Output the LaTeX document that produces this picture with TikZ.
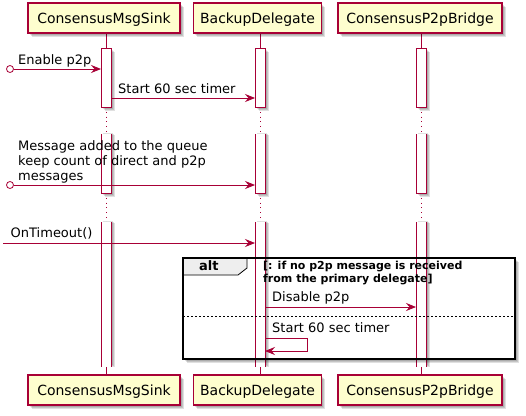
\documentclass[tikz,border=0pt]{standalone}
\usepackage{fontspec}
\setmainfont{DejaVu Sans}
\usetikzlibrary{arrows.meta}
\definecolor{pu}{HTML}{A80036}
\definecolor{pfill}{HTML}{FEFECE}
\definecolor{tabfill}{HTML}{EEEEEE}
\tikzset{
  part/.style={draw=pu, line width=1.1pt, fill=pfill, minimum height=30pt, inner sep=0pt,
    text height=13pt, text depth=3pt, font=\fontsize{14}{16}\selectfont},
  shad/.style={fill=black, opacity=0.12},
  life/.style={draw=pu, line width=0.8pt},
  delay/.style={draw=pu, line width=0.8pt, dash pattern=on 0.8pt off 4pt},
  barside/.style={draw=pu, line width=0.8pt},
  msg/.style={draw=pu, line width=0.8pt, -{Stealth[length=10pt,width=8pt,inset=3.5pt]}},
  txt/.style={anchor=base west, inner sep=0pt, font=\fontsize{13}{15}\selectfont},
  guard/.style={anchor=base west, inner sep=0pt, font=\fontsize{11}{13}\selectfont\bfseries},
}
% soft shadow: layered rectangles, offset down-right
\newcommand\softshad[4]{%
  \fill[shad] (#1+2,#2+2) rectangle (#3+2,#4+2);
  \fill[shad] (#1+3,#2+3) rectangle (#3+3,#4+3);
  \fill[shad] (#1+4,#2+4) rectangle (#3+4,#4+4);
}
\begin{document}
\begin{tikzpicture}[x=1pt, y=-1pt]
\useasboundingbox[fill=white] (0,0) rectangle (526,415);

% lifelines
\foreach \lx in {106,260,421} {
  \draw[life] (\lx,33) -- (\lx,48);
  \draw[delay] (\lx,107) -- (\lx,134);
  \draw[delay] (\lx,193) -- (\lx,222);
  \draw[life] (\lx,367) -- (\lx,375);
}

% activation bars
\foreach \lx in {106,260,421} {
  % bar 1
  \softshad{\lx-5}{48}{\lx+5}{107}
  \filldraw[barside, fill=white] (\lx-5,48) rectangle (\lx+5,107);
  % bar 2
  \softshad{\lx-5}{131}{\lx+5}{193}
  \fill[white] (\lx-5,134) rectangle (\lx+5,193);
  \draw[barside] (\lx-5,134) -- (\lx-5,193) -- (\lx+5,193) -- (\lx+5,134);
  % bar 3
  \softshad{\lx-5}{219}{\lx+5}{363}
  \fill[white] (\lx-5,222) rectangle (\lx+5,367);
  \draw[barside] (\lx-5,222) -- (\lx-5,367);
  \draw[barside] (\lx+5,222) -- (\lx+5,367);
}

% participants (top)
\softshad{28}{3}{180}{33}
\softshad{193}{3}{321}{33}
\softshad{338}{3}{502}{33}
\node[part, minimum width=152pt] (sinkT) at (104,18) {ConsensusMsgSink};
\node[part, minimum width=128pt] (backT) at (257.5,18) {BackupDelegate};
\node[part, minimum width=164pt] (bridgeT) at (420,18) {ConsensusP2pBridge};

% participants (bottom)
\softshad{28}{375}{180}{405}
\softshad{193}{375}{321}{405}
\softshad{338}{375}{502}{405}
\node[part, minimum width=152pt] (sinkB) at (104,390) {ConsensusMsgSink};
\node[part, minimum width=128pt] (backB) at (257.5,390) {BackupDelegate};
\node[part, minimum width=164pt] (bridgeB) at (420,390) {ConsensusP2pBridge};

% message endpoints
\coordinate (m1e) at (101,69);
\coordinate (m2s) at (111,98);  \coordinate (m2e) at (255,98);
\coordinate (m3e) at (255,185);
\coordinate (m4s) at (3,243);   \coordinate (m4e) at (255,243);
\coordinate (m5s) at (265,307); \coordinate (m5e) at (416,307);
\coordinate (m6s) at (265,338); \coordinate (m6a) at (307,338);
\coordinate (m6b) at (307,351); \coordinate (m6e) at (265,351);

% messages
\node[draw=pu, line width=0.8pt, circle, minimum size=7pt, inner sep=0pt] (c1) at (10,69) {};
\draw[msg] (c1) -- (m1e);
\node[txt] (t1) at (18,64.5) {Enable p2p};

\draw[msg] (m2s) -- (m2e);
\node[txt] (t2) at (118,93) {Start 60 sec timer};

\node[draw=pu, line width=0.8pt, circle, minimum size=7pt, inner sep=0pt] (c3) at (10,185) {};
\draw[msg] (c3) -- (m3e);
\node[txt] (t3a) at (18,150.5) {Message added to the queue};
\node[txt] (t3b) at (18,165.5) {keep count of direct and p2p};
\node[txt] (t3c) at (18,180.5) {messages};

\draw[msg] (m4s) -- (m4e);
\node[txt] (t4) at (10.5,237.5) {OnTimeout()};

% alt fragment
\softshad{183}{258}{515}{359}
\fill[white] (183,258) rectangle (515,359);
% redraw bars over the white area
\foreach \lx in {260,421} {
  \fill[shad] (\lx-3,258) rectangle (\lx+7,359);
  \fill[shad] (\lx-2,258) rectangle (\lx+8,359);
  \fill[shad] (\lx-1,258) rectangle (\lx+9,359);
  \fill[white] (\lx-5,258) rectangle (\lx+5,359);
  \draw[barside] (\lx-5,258) -- (\lx-5,359);
  \draw[barside] (\lx+5,258) -- (\lx+5,359);
}
\filldraw[fill=tabfill, draw=black, line width=0.8pt] (183,258) -- (247,258) -- (247,268) -- (238,275) -- (183,275) -- cycle;
\draw[black, line width=1.5pt] (183,258) rectangle (515,359);
\node[anchor=base west, inner sep=0pt, font=\fontsize{13}{15}\selectfont\bfseries] (alt) at (199,270.5) {alt};
\node[guard] (g1) at (263,269.5) {[: if no p2p message is received};
\node[guard] (g2) at (263,282.5) {from the primary delegate]};

\node[txt] (t5) at (272,301.5) {Disable p2p};
\draw[msg] (m5s) -- (m5e);

\draw[black, line width=0.7pt, dash pattern=on 2pt off 2pt] (183,316) -- (515,316);

\node[txt] (t6) at (272,332.5) {Start 60 sec timer};
\draw[msg] (m6s) -- (m6a) -- (m6b) -- (m6e);
\end{tikzpicture}
\end{document}
